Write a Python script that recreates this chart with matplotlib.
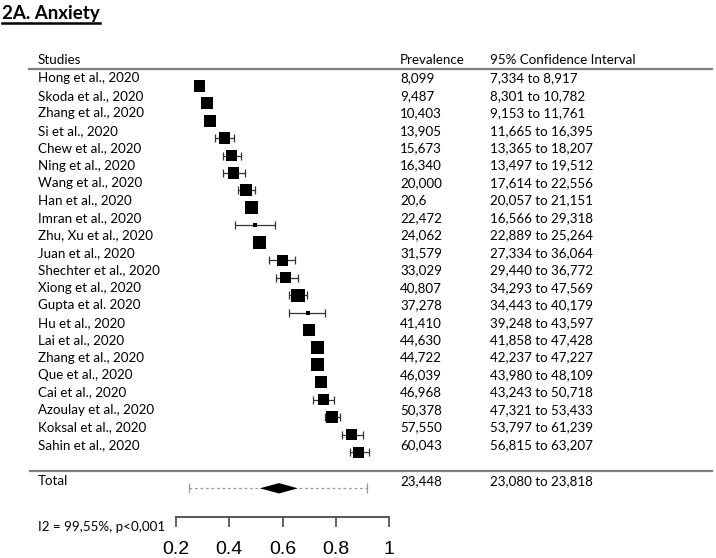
import numpy as np
import matplotlib
matplotlib.use("Agg")
import matplotlib.pyplot as plt
from matplotlib.transforms import blended_transform_factory
from matplotlib.lines import Line2D

plt.rcParams["font.family"] = ["Lato", "DejaVu Sans"]

studies = [
    "Hong et al., 2020", "Skoda et al., 2020", "Zhang et al., 2020",
    "Si et al., 2020", "Chew et al., 2020", "Ning et al., 2020",
    "Wang et al., 2020", "Han et al., 2020", "Imran et al., 2020",
    "Zhu, Xu et al., 2020", "Juan et al., 2020", "Shechter et al., 2020",
    "Xiong et al., 2020", "Gupta et al. 2020", "Hu et al., 2020",
    "Lai et al., 2020", "Zhang et al., 2020", "Que et al., 2020",
    "Cai et al., 2020", "Azoulay et al., 2020", "Koksal et al., 2020",
    "Sahin et al., 2020",
]
prev_txt = [
    "8,099", "9,487", "10,403", "13,905", "15,673", "16,340", "20,000",
    "20,6", "22,472", "24,062", "31,579", "33,029", "40,807", "37,278",
    "41,410", "44,630", "44,722", "46,039", "46,968", "50,378", "57,550",
    "60,043",
]
ci_lo_txt = [
    "7,334", "8,301", "9,153", "11,665", "13,365", "13,497", "17,614",
    "20,057", "16,566", "22,889", "27,334", "29,440", "34,293", "34,443",
    "39,248", "41,858", "42,237", "43,980", "43,243", "47,321", "53,797",
    "56,815",
]
ci_hi_txt = [
    "8,917", "10,782", "11,761", "16,395", "18,207", "19,512", "22,556",
    "21,151", "29,318", "25,264", "36,064", "36,772", "47,569", "40,179",
    "43,597", "47,428", "47,227", "48,109", "50,718", "53,433", "61,239",
    "63,207",
]

# positions as drawn on the plot scale
est = [0.288, 0.315, 0.329, 0.383, 0.407, 0.417, 0.463, 0.484, 0.496, 0.514,
       0.599, 0.612, 0.658, 0.696, 0.701, 0.732, 0.732, 0.746, 0.753, 0.787,
       0.860, 0.887]
lo = [0.276, 0.302, 0.317, 0.348, 0.375, 0.375, 0.432, 0.473, 0.422, 0.502,
      0.550, 0.574, 0.624, 0.626, 0.689, 0.717, 0.718, 0.733, 0.716, 0.760,
      0.822, 0.854]
hi = [0.300, 0.328, 0.341, 0.418, 0.443, 0.459, 0.497, 0.495, 0.573, 0.526,
      0.647, 0.657, 0.691, 0.760, 0.713, 0.748, 0.746, 0.759, 0.795, 0.816,
      0.901, 0.926]
weight = [4.3, 4.7, 4.7, 3.95, 3.95, 3.95, 4.7, 5.5, 0.5, 5.5, 3.95, 3.95,
          5.5, 0.5, 4.7, 5.5, 5.5, 4.7, 3.95, 4.7, 3.95, 3.95]

total_prev = "23,448"
total_ci = "23,080 to 23,818"
total_est, total_lo, total_hi = 0.587, 0.515, 0.657
pred_lo, pred_hi = 0.250, 0.918
het_txt = "I2 = 99,55%, p<0,001"
ticks = [0.2, 0.4, 0.6, 0.8, 1.0]
tick_labels = ["0.2", "0.4", "0.6", "0.8", "1"]

W, H = 716, 558
PX_02, PX_10 = 176, 389          # pixel columns of 0.2 and 1.0
ROW0_PX, ROW_STEP = 85.7, 17.45  # first marker row and row spacing
TXT_OFF = 0.42                   # text sits a little above the markers

fig = plt.figure(figsize=(W / 100, H / 100), dpi=100)
ax = fig.add_axes([0, 0, 1, 1])
ppu = (PX_10 - PX_02) / 0.8
ax.set_xlim(0.2 - PX_02 / ppu, 0.2 + (W - PX_02) / ppu)
ax.set_ylim((H - ROW0_PX) / ROW_STEP, -ROW0_PX / ROW_STEP)
ax.axis("off")

est = np.array(est)
rows = np.arange(len(studies))
ax.errorbar(est, rows, xerr=[est - np.array(lo), np.array(hi) - est],
            fmt="none", ecolor="#333333", elinewidth=0.9, capsize=2.8,
            capthick=0.9, zorder=2)
side = 5.6 * np.sqrt(weight)     # box side in px
ax.scatter(est, rows, s=(side * 0.72) ** 2, marker="s", color="black",
           linewidths=0, zorder=3)

trans = blended_transform_factory(ax.transAxes, ax.transData)
col_x = [38 / W, 400 / W, 490 / W]
fs = 9.6
for i, name in enumerate(studies):
    y = i - TXT_OFF
    ax.text(col_x[0], y, name, transform=trans, va="center", fontsize=fs)
    ax.text(col_x[1], y, prev_txt[i], transform=trans, va="center",
            fontsize=fs)
    ax.text(col_x[2], y, ci_lo_txt[i] + " to " + ci_hi_txt[i],
            transform=trans, va="center", fontsize=fs)

# header
hdr_y = (60 - ROW0_PX) / ROW_STEP
for x, s in zip(col_x, ["Studies", "Prevalence", "95% Confidence Interval"]):
    ax.text(x, hdr_y, s, transform=trans, va="center", fontsize=fs)
ax.axhline((69 - ROW0_PX) / ROW_STEP, xmin=29 / W, xmax=712 / W,
           color="#808080", lw=1.6)
ax.axhline((470.5 - ROW0_PX) / ROW_STEP, xmin=30 / W, xmax=712 / W,
           color="#808080", lw=1.6)

# pooled estimate
ty = (488.3 - ROW0_PX) / ROW_STEP
ax.plot([pred_lo, pred_hi], [ty, ty], color="#9a9a9a", lw=0.9,
        ls=(0, (2.2, 2.2)))
ax.plot([pred_lo, pred_hi], [ty, ty], ls="none", marker="|", ms=7,
        mew=0.9, color="#9a9a9a")
dh = 5.2 / ROW_STEP
ax.fill([total_lo, total_est, total_hi, total_est], [ty, ty - dh, ty, ty + dh],
        color="black", lw=0, zorder=3)
for x, s in zip(col_x, ["Total", total_prev, total_ci]):
    ax.text(x, ty - TXT_OFF, s, transform=trans, va="center", fontsize=fs)
ax.text(col_x[0], (526.7 - ROW0_PX) / ROW_STEP, het_txt, transform=trans,
        va="center", fontsize=fs)

# scale
ax2 = fig.add_axes([0, 1 - 516.7 / H, 1, 0.0001], sharex=ax)
ax2.patch.set_visible(False)
for sp in ["left", "right", "top"]:
    ax2.spines[sp].set_visible(False)
ax2.spines["bottom"].set_bounds(0.2, 1.0)
ax2.spines["bottom"].set_color("#555555")
ax2.spines["bottom"].set_linewidth(1.4)
ax2.set_yticks([])
ax2.set_xticks(ticks)
ax2.set_xticklabels(tick_labels, fontfamily="Liberation Sans", fontsize=14)
ax2.tick_params(axis="x", length=7.2, width=1.3, color="#555555", pad=10.5)

# title with underline
title = fig.text(2 / W, 1 - 18.5 / H, "2A. Anxiety", fontsize=13.5,
                 fontweight="bold", va="baseline")
fig.canvas.draw()
bb = title.get_window_extent()
uy = 1 - 23 / H
fig.add_artist(Line2D([bb.x0 / W, bb.x1 / W], [uy, uy], color="black",
                      lw=1.8, transform=fig.transFigure))

fig.savefig("out.png", dpi=100)
